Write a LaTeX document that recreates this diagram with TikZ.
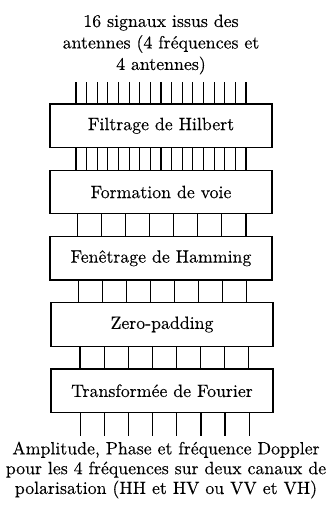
\documentclass[tikz,border=0pt]{standalone}
\usepackage{fontspec}
\setmainfont{lmroman10-regular.otf}[FakeBold=0.2]
\begin{document}
\begin{tikzpicture}[x=1pt,y=-1pt,
  stage/.style={draw, line width=1.1pt, minimum width=222pt, minimum height=43.5pt,
    inner sep=0pt, font=\fontsize{17.8}{21}\selectfont},
  wire/.style={line width=1.1pt},
  caption/.style={align=center, inner sep=0pt, anchor=north}]
\useasboundingbox (0,0) rectangle (331,505);

% processing chain
\node[stage] (hilbert)   at (161,125.75) {Filtrage de Hilbert};
\node[stage] (voie)      at (161,192.00) {Formation de voie};
\node[stage] (hamming)   at (161,258.25) {Fenêtrage de Hamming};
\node[stage] (zero)      at (162,324.50) {Zero-padding};
\node[stage] (fourier)   at (162,390.75) {Transformée de Fourier};

% free ends of the input and output bundles
\coordinate (in)  at (0,82.5);
\coordinate (out) at (0,436);

% input and output texts
\node[caption, font=\fontsize{17.8}{21.5}\selectfont] (src) at (161,14.4)
  {16 signaux issus des\\antennes (4 fréquences et\\4 antennes)};
\node[caption, font=\fontsize{17.8}{19.8}\selectfont] (res) at (166,441.4)
  {Amplitude, Phase et fréquence Doppler\\pour les 4 fréquences sur deux canaux de\\polarisation (HH et HV ou VV et VH)};

% 17 wires into and out of the Hilbert filter
\foreach \k in {0,...,16}{
  \coordinate (w) at (76+\k*10.625,0);
  \draw[wire] (in -| w) -- (hilbert.north -| w);
  \draw[wire] (hilbert.south -| w) -- (voie.north -| w);
}
% 8 channels between the later stages
\foreach \k in {0,...,7}{
  \coordinate (a) at (77.3+\k*24.1,0);
  \draw[wire] (voie.south -| a) -- (hamming.north -| a);
  \coordinate (b) at (78.7+\k*24.0,0);
  \draw[wire] (hamming.south -| b) -- (zero.north -| b);
  \coordinate (c) at (80+\k*24.05,0);
  \draw[wire] (zero.south -| c) -- (fourier.north -| c);
  \coordinate (d) at (80.7+\k*24.05,0);
  \draw[wire] (fourier.south -| d) -- (out -| d);
}
\end{tikzpicture}
\end{document}
